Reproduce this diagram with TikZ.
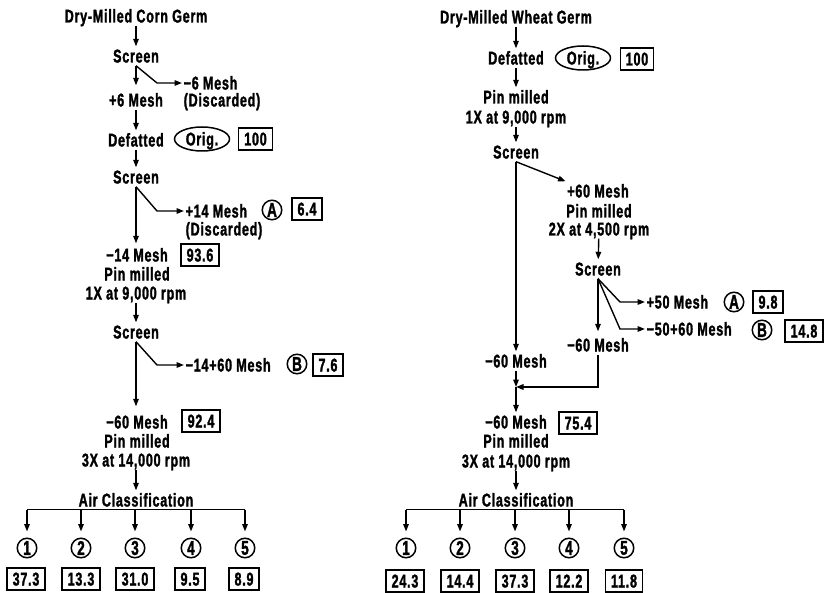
\documentclass[tikz,border=0pt]{standalone}
\usepackage{fontspec}
\setmainfont{Liberation Sans}[FakeStretch=0.68,LetterSpace=4,BoldFeatures={FakeBold=1.5}]
\usetikzlibrary{arrows.meta,shapes.geometric}
\begin{document}
\begin{tikzpicture}[x=1pt,y=-1pt,
  every node/.style={font=\fontsize{18.5}{20}\selectfont\bfseries, inner sep=0pt},
  t/.style={text height=13pt, text depth=0pt, inner xsep=1.5pt, inner ysep=3pt},
  nbox/.style={draw, line width=1.4pt, text height=13pt, text depth=0pt, inner xsep=5.5pt, minimum height=22pt},
  circ/.style={circle, draw, line width=1.5pt, minimum size=19.5pt, inner sep=0pt, font=\fontsize{20}{20}\selectfont\bfseries},
  orig/.style={ellipse, draw, line width=1.5pt, minimum width=55pt, minimum height=24pt, inner sep=0pt, text height=13pt, text depth=0pt},
  flow/.style={line width=1.4pt, -{Triangle[length=7.5pt,width=5.5pt]}},
  ln/.style={line width=1.4pt}]
\useasboundingbox (0,0) rectangle (826,593);

% ---------------- Left: corn germ ----------------
\node[t] (lg) at (136,16) {Dry-Milled Corn Germ};
\node[t] (ls1) at (136,56) {Screen};
\node[t,anchor=west] (lm6) at (182,83) {−6 Mesh};
\node[t,anchor=west] (ld1) at (182,100) {(Discarded)};
\node[t] (lp6) at (136,100) {+6 Mesh};
\node[t] (ldef) at (136,140) {Defatted};
\node[orig] (lorig) at (202,139) {Orig.};
\node[nbox] (l100) at (255.5,139) {100};
\node[t] (ls2) at (136,177) {Screen};
\node[t,anchor=west] (lp14) at (184,211) {+14 Mesh};
\node[circ] (lA) at (272,210) {A};
\node[nbox] (l64) at (307,209) {6.4};
\node[t,anchor=west] (ld2) at (184,229) {(Discarded)};
\node[t] (lm14) at (137,255) {−14 Mesh};
\node[nbox] (l936) at (200,255) {93.6};
\node[t] (lpin1) at (137,274) {Pin milled};
\node[t] (lrpm1) at (136,293) {1X at 9,000 rpm};
\node[t] (ls3) at (136,332) {Screen};
\node[t,anchor=west] (l1460) at (184,365) {−14+60 Mesh};
\node[circ] (lB) at (297,364) {B};
\node[nbox] (l76) at (328,365) {7.6};
\node[t] (lm60) at (137,422) {−60 Mesh};
\node[nbox] (l924) at (201,421) {92.4};
\node[t] (lpin2) at (137,441) {Pin milled};
\node[t] (lrpm2) at (136,460) {3X at 14,000 rpm};
\node[t] (lair) at (136,500) {Air Classification};
\foreach \i/\cx/\bx/\v in {1/27/26/37.3, 2/81/81/13.3, 3/135/135/31.0, 4/191/190/9.5, 5/245/244/8.9}{
  \node[circ] (lc\i) at (\cx,548) {\i};
  \node[nbox] (lb\i) at (\bx,579) {\v};
}

\coordinate (lk1) at (157,83);
\coordinate (lk2) at (157,211);
\coordinate (lk3) at (157,365);
\draw[flow] (lg) -- (ls1);
\draw[flow,shorten >=5pt] (ls1) -- (lp6);
\draw[flow] (ls1.south) -- (lk1) -- (lm6.west);
\draw[flow] (lp6) -- (ldef);
\draw[flow] (ldef) -- (ls2);
\draw[flow,shorten >=2pt] (ls2.south) -- (ls2.south |- lm14.north);
\draw[flow] (ls2.south) -- (lk2) -- (lp14.west);
\draw[flow] (lrpm1) -- (ls3);
\draw[flow,shorten >=6pt] (ls3.south) -- (ls3.south |- lm60.north);
\draw[flow] (ls3.south) -- (lk3) -- (l1460.west);
\draw[flow] (lrpm2) -- (lair);
\draw[ln] (lc1 |- lair.south) -- (lc5 |- lair.south);
\foreach \i in {1,...,5}{
  \draw[flow,shorten >=6pt] (lc\i |- lair.south) -- (lc\i.north);
}

% ---------------- Right: wheat germ ----------------
\node[t] (rg) at (516,17) {Dry-Milled Wheat Germ};
\node[t] (rdef) at (516,58) {Defatted};
\node[orig] (rorig) at (583,58) {Orig.};
\node[nbox] (r100) at (637,59) {100};
\node[t] (rpin1) at (516,97) {Pin milled};
\node[t] (rrpm1) at (516,117) {1X at 9,000 rpm};
\node[t] (rs1) at (516,152) {Screen};
\node[t] (rp60) at (598,191) {+60 Mesh};
\node[t] (rpin2) at (599,211) {Pin milled};
\node[t] (rrpm2) at (599,229) {2X at 4,500 rpm};
\node[t] (rs2) at (598,269) {Screen};
\node[t,anchor=west] (rp50) at (645,302) {+50 Mesh};
\node[circ] (rA) at (734,302) {A};
\node[nbox] (r98) at (768,302) {9.8};
\node[t,anchor=west] (r5060) at (645,329) {−50+60 Mesh};
\node[circ] (rB) at (762,330) {B};
\node[nbox] (r148) at (804,331) {14.8};
\node[t] (rm60r) at (598,345) {−60 Mesh};
\node[t] (rm60l) at (516,361) {−60 Mesh};
\coordinate (rj) at (516,387);
\node[t] (rm60) at (516,422) {−60 Mesh};
\node[nbox] (r754) at (578,423) {75.4};
\node[t] (rpin3) at (516,441) {Pin milled};
\node[t] (rrpm3) at (516,461) {3X at 14,000 rpm};
\node[t] (rair) at (516,500) {Air Classification};
\foreach \i/\cx/\bx/\v in {1/406/405/24.3, 2/460/460/14.4, 3/515/515/37.3, 4/569/569/12.2, 5/624/624/11.8}{
  \node[circ] (rc\i) at (\cx,548) {\i};
  \node[nbox] (rb\i) at (\bx,581) {\v};
}

\coordinate (rk1) at (620,302);
\coordinate (rk2) at (620,329);
\draw[flow] (rg) -- (rdef);
\draw[flow] (rdef) -- (rpin1);
\draw[flow] (rrpm1) -- (rs1);
\draw[flow] (rs1.south) -- (rm60l);
\draw[flow] (rs1.south) -- (rp60.north west);
\draw[flow] (rrpm2) -- (rs2);
\draw[flow,shorten >=4pt] (rs2) -- (rm60r);
\draw[flow] (rs2.south) -- (rk1) -- (rp50.west);
\draw[flow] (rs2.south) -- (rk2) -- (r5060.west);
\draw[flow] (rm60l) -- (rj);
\draw[flow] (rm60r.south) |- (rj);
\draw[flow] (rj) -- (rm60);
\draw[flow] (rrpm3) -- (rair);
\draw[ln] (rc1 |- rair.south) -- (rc5 |- rair.south);
\foreach \i in {1,...,5}{
  \draw[flow,shorten >=6pt] (rc\i |- rair.south) -- (rc\i.north);
}
\end{tikzpicture}
\end{document}
